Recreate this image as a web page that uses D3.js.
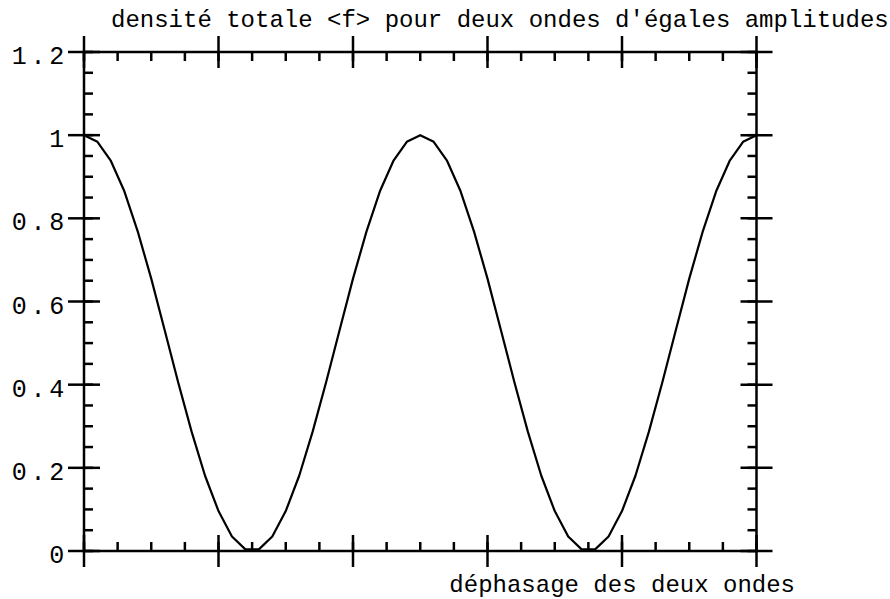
<!DOCTYPE html>
<html>
<head>
<meta charset="utf-8">
<script src="https://cdn.jsdelivr.net/npm/d3@7"></script>
<style>
  body { margin: 0; background: white; }
  text { font-family: "Liberation Mono", "DejaVu Sans Mono", monospace; fill: black; }
</style>
</head>
<body>
<svg width="890" height="599"></svg>
<script>
// phase shift sampled every 0.2 (axis runs 0..10, unlabeled)
var phase = d3.range(0, 51).map(i => +(i * 0.2).toFixed(1));
// density
var density = [
  1, 0.984, 0.938, 0.865, 0.768, 0.655, 0.531, 0.406, 0.287, 0.181, 0.096, 0.035, 0.004,
  0.004, 0.035, 0.096, 0.181, 0.287, 0.406, 0.531, 0.655, 0.768, 0.865, 0.938, 0.984, 1,
  0.984, 0.938, 0.865, 0.768, 0.655, 0.531, 0.406, 0.287, 0.181, 0.096, 0.035, 0.004,
  0.004, 0.035, 0.096, 0.181, 0.287, 0.406, 0.531, 0.655, 0.768, 0.865, 0.938, 0.984, 1
];
var xMajor = [0, 2, 4, 6, 8, 10];
var xMinor = d3.range(0, 10.01, 0.5);
var yMajor = [0, 0.2, 0.4, 0.6, 0.8, 1, 1.2];
var yLabels = ['0', '0.2', '0.4', '0.6', '0.8', '1', '1.2'];
var yMinor = d3.range(0, 1.201, 0.05);
var title = "densité totale <f> pour deux ondes d'égales amplitudes";
var xTitle = 'déphasage des deux ondes';

var svg = d3.select('svg');
var x = d3.scaleLinear().domain([0, 10]).range([84, 756.5]);
var y = d3.scaleLinear().domain([0, 1.2]).range([551, 52]);
var big = 16, small = 9;

var ax = svg.append('g')
    .attr('stroke', 'black')
    .attr('stroke-width', 2.5)
    .attr('fill', 'none');

// frame
ax.append('rect')
    .attr('x', x(0)).attr('y', y(1.2))
    .attr('width', x(10) - x(0)).attr('height', y(0) - y(1.2));

// minor ticks (inward)
ax.selectAll('.xminb').data(xMinor).join('line')
    .attr('x1', d => x(d)).attr('x2', d => x(d))
    .attr('y1', y(0)).attr('y2', y(0) - small);
ax.selectAll('.xmint').data(xMinor).join('line')
    .attr('x1', d => x(d)).attr('x2', d => x(d))
    .attr('y1', y(1.2)).attr('y2', y(1.2) + small);
ax.selectAll('.yminl').data(yMinor).join('line')
    .attr('y1', d => y(d)).attr('y2', d => y(d))
    .attr('x1', x(0)).attr('x2', x(0) + small);
ax.selectAll('.yminr').data(yMinor).join('line')
    .attr('y1', d => y(d)).attr('y2', d => y(d))
    .attr('x1', x(10)).attr('x2', x(10) - small);

// major ticks (cross the axis)
[y(0), y(1.2)].forEach(function(yy){
    ax.append('g').selectAll('line').data(xMajor).join('line')
        .attr('x1', d => x(d)).attr('x2', d => x(d))
        .attr('y1', yy - big).attr('y2', yy + big);
});
[x(0), x(10)].forEach(function(xx){
    ax.append('g').selectAll('line').data(yMajor).join('line')
        .attr('y1', d => y(d)).attr('y2', d => y(d))
        .attr('x1', xx - big).attr('x2', xx + big);
});

// y labels
svg.selectAll('.ylab').data(yMajor).join('text')
    .attr('class', 'ylab')
    .attr('x', 68)
    .attr('y', d => y(d) + 12)
    .attr('text-anchor', 'end')
    .style('font-size', '25px')
    .style('letter-spacing', '3.75px')
    .text((d, i) => yLabels[i]);

// curve
var line = d3.line()
    .x((d, i) => x(phase[i]))
    .y(d => y(d));
svg.append('path')
    .datum(density)
    .attr('d', line)
    .attr('fill', 'none')
    .attr('stroke', 'black')
    .attr('stroke-width', 2.2)
    .attr('stroke-linejoin', 'round');

svg.append('text')
    .attr('x', 111).attr('y', 27)
    .style('font-size', '24px')
    .text(title);
svg.append('text')
    .attr('x', 795).attr('y', 592)
    .attr('text-anchor', 'end')
    .style('font-size', '24px')
    .text(xTitle);
</script>
</body>
</html>
